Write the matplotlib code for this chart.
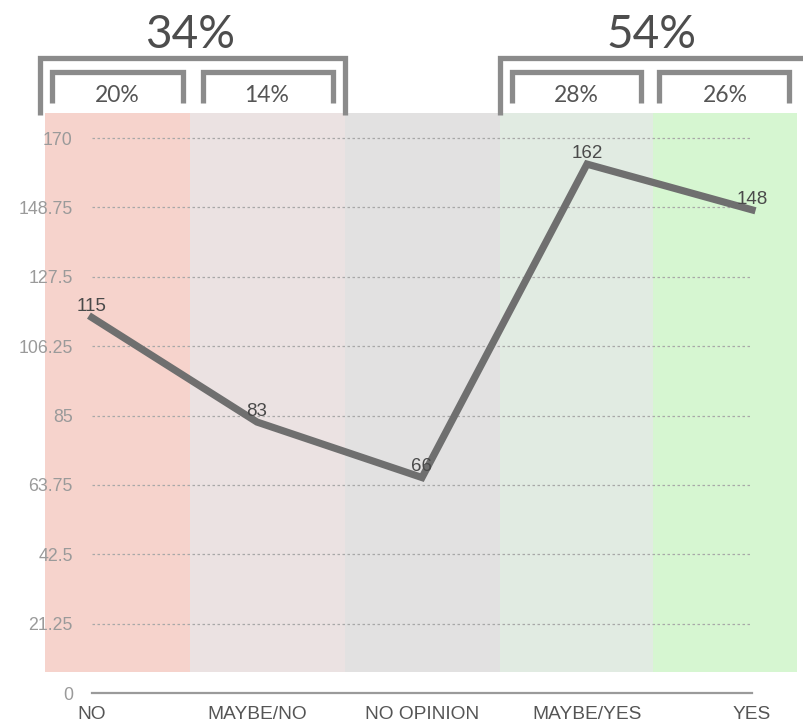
import matplotlib
matplotlib.use("Agg")
import matplotlib.pyplot as plt
from matplotlib.patches import Rectangle
from matplotlib.lines import Line2D

categories = ["NO", "MAYBE/NO", "NO OPINION", "MAYBE/YES", "YES"]
values = [115, 83, 66, 162, 148]
yticks = [0, 21.25, 42.5, 63.75, 85, 106.25, 127.5, 148.75, 170]
ytick_labels = ["0", "21.25", "42.5", "63.75", "85", "106.25", "127.5", "148.75", "170"]
group_labels = ["34%", "54%"]
sub_labels = ["20%", "14%", "28%", "26%"]

band_colors = ["#f6d3cc", "#ebe2e2", "#e2e1e1", "#e1ebe2", "#d6f6d1"]
band_edges = [0.0, 0.1928, 0.3989, 0.6051, 0.8085, 1.0]  # axes fraction

W, H = 804, 723
fig = plt.figure(figsize=(W / 100, H / 100), dpi=100)
fig.patch.set_facecolor("white")

# axes placement in pixels
ax_l, ax_r, ax_t, ax_b = 45, 797, 113, 700
ax = fig.add_axes([ax_l / W, 1 - ax_b / H, (ax_r - ax_l) / W, (ax_b - ax_t) / H])
ax.set_facecolor("none")

x = list(range(len(categories)))
ax.set_xlim(-0.2848, 4.2727)
ax.set_ylim(-2.14, 177.66)

# background bands
for i, c in enumerate(band_colors):
    ax.add_patch(Rectangle((band_edges[i], 0.0477), band_edges[i + 1] - band_edges[i], 1 - 0.0477,
                           transform=ax.transAxes, facecolor=c, edgecolor="none", zorder=0))

# gridlines
for t in yticks[1:]:
    ax.plot([x[0], x[-1]], [t, t], color="#a8a8a8", lw=0.9, ls=(0, (2, 2)), zorder=1)
ax.plot([x[0], x[-1]], [0, 0], color="#9a9a9a", lw=1.6, zorder=1)

# the line
ax.plot(x, values, color="#6f6f6f", lw=5.2, solid_joinstyle="miter", zorder=3)
for xi, v in zip(x, values):
    ax.annotate(str(v), (xi, v), xytext=(0, 4.5), textcoords="offset points",
                ha="center", va="baseline", fontsize=13.5, color="#4a4a4a",
                family="Liberation Sans", zorder=4)

for s in ax.spines.values():
    s.set_visible(False)
ax.set_yticks(yticks)
ax.set_yticklabels(ytick_labels, family="Liberation Sans", fontsize=12.8, color="#9a9a9a")
ax.tick_params(axis="y", length=0, pad=-20)
for lbl in ax.get_yticklabels():
    lbl.set_horizontalalignment("right")
ax.set_xticks(x)
ax.set_xticklabels(categories, family="Liberation Sans", fontsize=13.8, color="#555555")
ax.tick_params(axis="x", length=0, pad=4)

# brackets (pixel coordinates)
def fx(px):
    return px / W

def fy(py):
    return 1 - py / H

def bracket(x0, x1, ytop, ybot):
    fig.add_artist(Line2D([fx(x0), fx(x0), fx(x1), fx(x1)], [fy(ybot), fy(ytop), fy(ytop), fy(ybot)],
                          transform=fig.transFigure, color="#8b8b8b", lw=3.8,
                          solid_joinstyle="miter", solid_capstyle="butt"))

bracket(40, 345, 57.5, 115)
bracket(500, 806, 57.5, 115)
bracket(52, 183, 72, 103)
bracket(203, 333, 72, 103)
bracket(512, 641, 72, 103)
bracket(659, 789, 72, 103)

font_title = ["Lato", "DejaVu Sans"]
fig.text(fx(190), fy(48), group_labels[0], ha="center", va="baseline", fontsize=33,
         color="#4d4d4d", family=font_title, weight="normal")
fig.text(fx(651), fy(48), group_labels[1], ha="center", va="baseline", fontsize=33,
         color="#4d4d4d", family=font_title, weight="normal")
for cx, s in zip([117, 267, 576, 725], sub_labels):
    fig.text(fx(cx), fy(102), s, ha="center", va="baseline", fontsize=16.5,
             color="#555555", family=font_title, weight="normal")

fig.savefig("out.png", dpi=100, facecolor="white")
